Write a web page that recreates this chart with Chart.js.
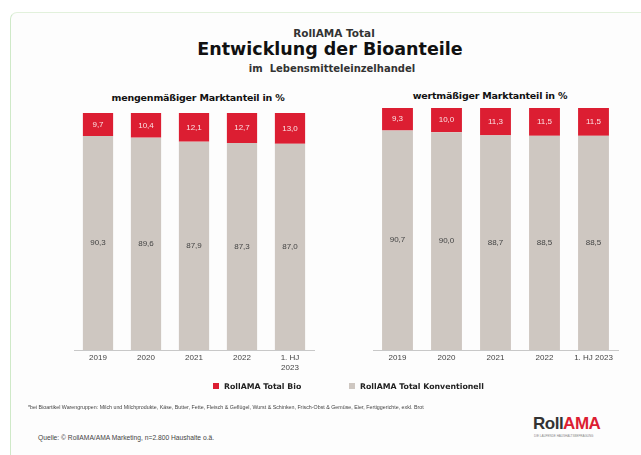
<!DOCTYPE html>
<html lang="de">
<head>
<meta charset="UTF-8">
<title>RollAMA Total - Entwicklung der Bioanteile</title>
<script src="https://cdn.jsdelivr.net/npm/chart.js"></script>
<style>
  body { margin: 0; width: 641px; height: 455px; background: #fff; font-family: "Liberation Sans", Arial, sans-serif; position: relative; overflow: hidden; }
  .frame { position: absolute; left: 10px; top: 12px; width: 640px; height: 460px; border-left: 1px solid #cfe9c8; border-top: 1px solid #e2f1dc; border-top-left-radius: 7px; background: #fdfdfd; }
  .t { position: absolute; white-space: nowrap; color: #222; }
  .dv { font-family: "DejaVu Sans", sans-serif; font-weight: bold; }
  canvas { position: absolute; }
  .sq { display: inline-block; width: 6px; height: 6px; margin-right: 5px; vertical-align: 0px; }
</style>
</head>
<body>
<div class="frame"></div>
<div class="t dv" style="left:0;width:668px;top:27px;text-align:center;font-size:10.5px;color:#333;">RollAMA Total</div>
<div class="t dv" style="left:0;width:660px;top:39px;text-align:center;font-size:17.5px;color:#111;">Entwicklung der Bioanteile</div>
<div class="t dv" style="left:0;width:664px;top:63px;text-align:center;font-size:10px;color:#333;">im&nbsp; Lebensmitteleinzelhandel</div>
<div class="t dv" style="left:98px;width:200px;top:92px;text-align:center;font-size:9.5px;color:#111;letter-spacing:-0.2px;">mengenmäßiger Marktanteil in %</div>
<div class="t dv" style="left:390px;width:200px;top:90px;text-align:center;font-size:9.5px;color:#111;letter-spacing:-0.2px;">wertmäßiger Marktanteil in %</div>

<canvas id="left" width="270" height="290" style="left:60px;top:100px;"></canvas>
<canvas id="right" width="275" height="290" style="left:360px;top:95px;"></canvas>

<div class="t dv" style="left:213px;top:382px;font-size:7.8px;color:#222;"><span class="sq" style="background:#dc1e32;"></span>RollAMA Total Bio</div>
<div class="t dv" style="left:349px;top:382px;font-size:7.8px;color:#222;"><span class="sq" style="background:#cec7c1;"></span>RollAMA Total Konventionell</div>

<div class="t" style="left:28px;top:404px;font-size:5.3px;color:#444;">*bei Bioartikel Warengruppen: Milch und Milchprodukte, Käse, Butter, Fette, Fleisch &amp; Geflügel, Wurst &amp; Schinken, Frisch-Obst &amp; Gemüse, Eier, Fertiggerichte, exkl. Brot</div>
<div class="t" style="left:38px;top:434px;font-size:6.7px;color:#444;">Quelle: © RollAMA/AMA Marketing, n=2.800 Haushalte o.ä.</div>
<div class="t" style="left:533px;top:414px;font-size:17px;font-weight:bold;letter-spacing:-0.5px;"><span style="color:#333;">Roll</span><span style="color:#dc1e32;">AMA</span></div>
<div class="t" style="left:534px;top:434px;font-size:3px;color:#888;">DIE LAUFENDE HAUSHALTSBEFRAGUNG</div>

<script>
  // Daten
  const years = ['2019', '2020', '2021', '2022', '1. HJ 2023'];
  const mengeBio = [9.7, 10.4, 12.1, 12.7, 13.0];
  const mengeKonv = [90.3, 89.6, 87.9, 87.3, 87.0];
  const wertBio = [9.3, 10.0, 11.3, 11.5, 11.5];
  const wertKonv = [90.7, 90.0, 88.7, 88.5, 88.5];

  const RED = '#dc1e32';
  const GRAY = '#cec7c1';

  // Werte in die Balken schreiben
  const valueLabels = {
    id: 'valueLabels',
    afterDatasetsDraw(chart) {
      const ctx = chart.ctx;
      ctx.save();
      ctx.font = '8px "Liberation Sans", Arial, sans-serif';
      ctx.textAlign = 'center';
      ctx.textBaseline = 'middle';
      chart.data.datasets.forEach((ds, i) => {
        const meta = chart.getDatasetMeta(i);
        meta.data.forEach((bar, j) => {
          ctx.fillStyle = ds.labelColor;
          const txt = ds.data[j].toFixed(1).replace('.', ',');
          ctx.fillText(txt, bar.x, (bar.y + bar.base) / 2);
        });
      });
      ctx.restore();
    }
  };

  function makeChart(id, labels, konv, bio, pad) {
    return new Chart(document.getElementById(id), {
      type: 'bar',
      data: {
        labels: labels,
        datasets: [
          { label: 'RollAMA Total Konventionell', data: konv, backgroundColor: GRAY, labelColor: '#444' },
          { label: 'RollAMA Total Bio', data: bio, backgroundColor: RED, labelColor: '#fbe3e5' }
        ]
      },
      options: {
        responsive: false,
        animation: false,
        layout: { padding: pad },
        categoryPercentage: 1,
        barPercentage: 0.63,
        plugins: { legend: { display: false }, tooltip: { enabled: false } },
        scales: {
          x: {
            stacked: true,
            grid: { display: false, drawTicks: false, tickLength: 0 },
            border: { display: true, color: '#c8c8c8' },
            ticks: { color: '#444', font: { size: 8, family: '"Liberation Sans", Arial, sans-serif' }, padding: 3, maxRotation: 0, autoSkip: false },
            afterFit: s => { s.height = 30; }
          },
          y: { stacked: true, display: false, min: 0, max: 100 }
        }
      },
      plugins: [valueLabels]
    });
  }

  makeChart('left', [years[0], years[1], years[2], years[3], ['1. HJ', '2023']], mengeKonv, mengeBio,
    { left: 14, right: 16, top: 13, bottom: 10 });
  makeChart('right', years, wertKonv, wertBio,
    { left: 13, right: 17, top: 13, bottom: 5 });
</script>
</body>
</html>
